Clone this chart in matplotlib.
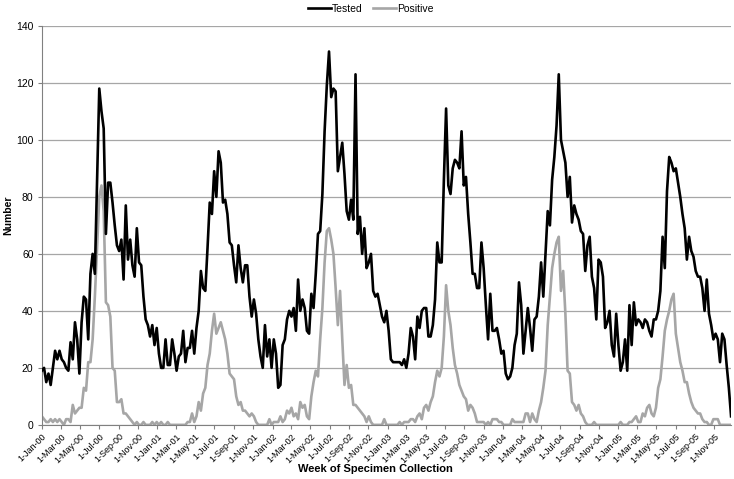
import numpy as np
import pandas as pd
import matplotlib
matplotlib.use("Agg")
import matplotlib.pyplot as plt
import matplotlib.dates as mdates
from matplotlib.ticker import FuncFormatter

plt.rcParams['font.family'] = ['Liberation Sans', 'DejaVu Sans']

# Weekly counts (first week = 1-Jan-2000)
tested_2000 = [19, 20, 15, 18, 14, 20, 26, 23, 26, 23,
               22, 20, 19, 29, 23, 36, 30, 18, 36, 45,
               44, 30, 53, 60, 53, 85, 118, 110, 104, 67,
               85, 85, 78, 70, 63, 61, 65, 51, 77, 58,
               65, 56, 52, 69, 57, 56, 45, 37, 35, 31,
               35, 28, 34]
tested_2001 = [25, 20, 20, 30, 21, 21, 30, 25, 19, 24,
               25, 33, 22, 27, 27, 33, 25, 34, 40, 54,
               48, 47, 62, 78, 74, 89, 80, 96, 92, 78,
               79, 74, 64, 63, 56, 50, 63, 55, 50, 56,
               56, 45, 38, 44, 39, 30, 24, 20, 35, 24,
               30, 20]
tested_2002 = [30, 25, 13, 14, 28, 30, 37, 40, 38, 41,
               33, 51, 40, 44, 41, 33, 32, 46, 41, 53,
               67, 68, 81, 103, 119, 131, 115, 118, 117, 89,
               94, 99, 88, 75, 72, 79, 72, 123, 67, 73,
               60, 69, 55, 57, 60, 47, 45, 46, 42, 38,
               36, 40]
tested_2003 = [33, 23, 22, 22, 22, 22, 21, 23, 20, 25,
               34, 31, 23, 38, 34, 40, 41, 41, 31, 31,
               35, 44, 64, 57, 57, 86, 111, 84, 81, 90,
               93, 92, 90, 103, 84, 87, 74, 64, 53, 53,
               48, 48, 64, 55, 42, 30, 46, 33, 33, 34,
               30, 25]
tested_2004 = [26, 18, 16, 17, 20, 28, 32, 50, 42, 25,
               33, 41, 34, 26, 37, 38, 45, 57, 45, 60,
               75, 70, 86, 94, 105, 123, 100, 96, 92, 80,
               87, 71, 77, 74, 72, 68, 67, 54, 63, 66,
               52, 48, 37, 58, 57, 52, 34, 36, 40, 28,
               24, 39]
tested_2005 = [28, 19, 22, 30, 19, 42, 28, 43, 35, 37,
               36, 34, 37, 36, 33, 31, 37, 37, 40, 47,
               66, 55, 82, 94, 92, 89, 90, 85, 80, 74,
               69, 58, 66, 61, 59, 54, 52, 52, 48, 40,
               51, 39, 35, 30, 32, 30, 22, 32, 30, 21,
               13, 3]

positive_2000 = [3, 2, 1, 1, 2, 1, 2, 1, 2, 1,
                 0, 2, 2, 1, 7, 4, 5, 6, 6, 13,
                 12, 22, 22, 30, 45, 62, 80, 84, 75, 43,
                 42, 38, 20, 19, 8, 8, 9, 4, 4, 3,
                 2, 1, 0, 1, 0, 0, 1, 0, 0, 0,
                 1, 0, 1]
positive_2001 = [0, 1, 0, 0, 1, 0, 0, 0, 0, 0,
                 0, 0, 0, 1, 1, 4, 1, 3, 8, 5,
                 11, 13, 21, 25, 33, 39, 32, 34, 36, 33,
                 30, 25, 18, 17, 16, 10, 7, 8, 5, 5,
                 4, 3, 4, 3, 1, 0, 0, 0, 0, 0,
                 2, 0]
positive_2002 = [1, 1, 1, 3, 1, 2, 5, 4, 6, 3,
                 4, 2, 8, 6, 7, 3, 2, 10, 15, 19,
                 17, 30, 41, 57, 68, 69, 65, 60, 48, 35,
                 47, 30, 14, 21, 13, 14, 7, 7, 6, 5,
                 4, 3, 1, 3, 1, 0, 0, 0, 0, 0,
                 2, 0]
positive_2003 = [0, 0, 0, 0, 0, 1, 0, 1, 1, 1,
                 2, 2, 1, 3, 4, 2, 6, 7, 5, 8,
                 10, 15, 19, 17, 20, 31, 49, 40, 35, 27,
                 21, 18, 14, 12, 10, 9, 5, 7, 6, 4,
                 1, 1, 1, 1, 0, 1, 0, 2, 2, 2,
                 1, 1]
positive_2004 = [0, 0, 0, 0, 2, 1, 1, 1, 1, 1,
                 4, 4, 1, 4, 2, 1, 5, 8, 13, 19,
                 35, 45, 55, 60, 64, 66, 47, 54, 39, 19,
                 18, 8, 7, 5, 7, 4, 3, 1, 0, 0,
                 0, 1, 0, 0, 0, 0, 0, 0, 0, 0,
                 0, 0]
positive_2005 = [0, 1, 0, 0, 0, 1, 1, 2, 3, 1,
                 1, 4, 3, 6, 7, 4, 3, 6, 13, 16,
                 24, 33, 37, 40, 44, 46, 32, 27, 22, 19,
                 15, 15, 11, 8, 6, 5, 4, 4, 2, 1,
                 1, 0, 0, 2, 2, 2, 0, 0, 0, 0,
                 0, 0]

tested = np.concatenate([tested_2000, tested_2001, tested_2002,
                         tested_2003, tested_2004, tested_2005])
positive = np.concatenate([positive_2000, positive_2001, positive_2002,
                           positive_2003, positive_2004, positive_2005])
weeks = pd.date_range("2000-01-01", periods=len(tested), freq="7D")

fig = plt.figure(figsize=(7.34, 4.79), dpi=100)
ax = fig.add_axes([0.057, 0.113, 0.939, 0.833])

ax.plot(weeks, tested, color="black", linewidth=1.9, label="Tested", zorder=3)
ax.plot(weeks, positive, color="#a6a6a6", linewidth=1.9, label="Positive", zorder=2)

ax.set_ylim(0, 140)
ax.set_yticks(np.arange(0, 141, 20))
ax.set_xlim(weeks[0], weeks[-1])
ax.grid(axis="y", color="#a6a6a6", linewidth=0.9)
ax.set_axisbelow(True)

ax.xaxis.set_major_locator(mdates.MonthLocator(bymonth=[1, 3, 5, 7, 9, 11]))
ax.xaxis.set_major_formatter(FuncFormatter(
    lambda v, pos: "{}-{}".format(mdates.num2date(v).day, mdates.num2date(v).strftime("%b-%y"))))
for lbl in ax.get_xticklabels():
    lbl.set_rotation(45)
    lbl.set_ha("right")
    lbl.set_rotation_mode("anchor")

ax.tick_params(axis="x", labelsize=6.5, length=3, color="#808080", pad=2)
ax.tick_params(axis="y", labelsize=7.5, length=3, color="#808080", pad=3)

for side in ["top", "right"]:
    ax.spines[side].set_visible(False)
for side in ["left", "bottom"]:
    ax.spines[side].set_color("#808080")

fig.text(0.511, 0.02, "Week of Specimen Collection", fontsize=8, fontweight="bold",
         ha="center", va="center")
fig.text(0.011, 0.55, "Number", fontsize=7.5, fontweight="bold",
         rotation=90, ha="center", va="center")

fig.legend(loc="upper center", bbox_to_anchor=(0.505, 1.012), ncol=2, frameon=False,
           fontsize=7.5, handlelength=2.2, columnspacing=1.0, handletextpad=0.1)

fig.savefig("out.png", dpi=100)
